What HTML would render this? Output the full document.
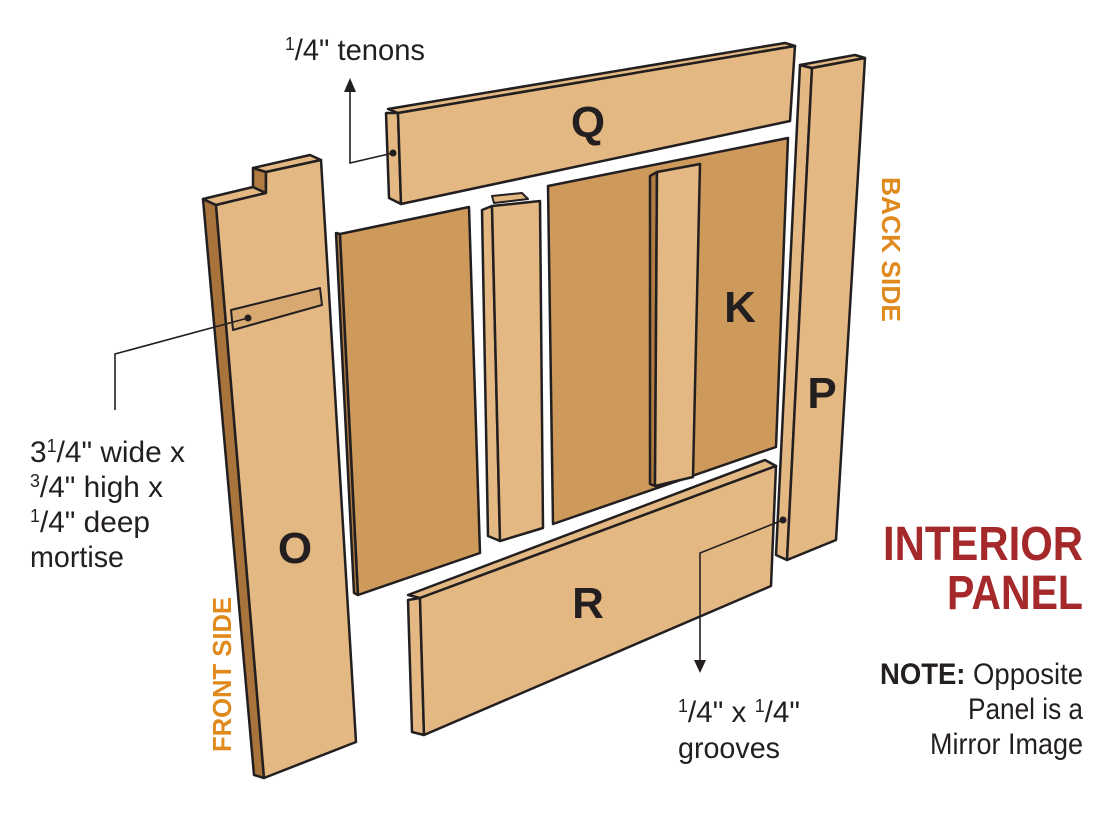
<!DOCTYPE html>
<html><head><meta charset="utf-8"><style>
body{margin:0;background:#fff}
svg text{font-family:"Liberation Sans Narrow","Liberation Sans",sans-serif}
</style></head><body>
<svg width="1118" height="831" viewBox="0 0 1118 831" xmlns="http://www.w3.org/2000/svg">
<g stroke="#231f20" stroke-width="2.5" stroke-linejoin="round">
<polygon points="203,199 216,205 264,778 254,775" fill="#a8743c"/>
<polygon points="203,199 253,187 266,193 216,205" fill="#e3b883"/>
<polygon points="253,168 266,172 266,193 253,187" fill="#b07c42"/>
<polygon points="253,168 310,155 321,160 266,172" fill="#e3b883"/>
<polygon points="216,205 266,193 266,172 321,160 356,742 264,778" fill="#e3b883"/>
<polygon points="231,310 320,288 322,305 233,330" fill="#d9a972" stroke-width="2"/>
<polygon points="336,233 340,234 358,595 354,593" fill="#b07c42"/>
<polygon points="340,234 469,207 480,553 358,595" fill="#cd9a5c"/>
<polygon points="482,210 492,206 500,541 488,536" fill="#e3b883"/>
<polygon points="492,196 522,193 528,199 494,203" fill="#e3b883" stroke-width="2"/>
<polygon points="492,206 540,201 543,528 500,541" fill="#e3b883"/>
<polygon points="548,186 788,138 776,447 553,524" fill="#cd9a5c"/>
<polygon points="650,176 657,172 655,486 650,484" fill="#b07c42"/>
<polygon points="657,172 700,164 693,477 655,486" fill="#e3b883"/>
<polygon points="386,113 398,113 401,204 389,198" fill="#e3b883"/>
<polygon points="388,109 785,43 795,46 398,113" fill="#e3b883"/>
<polygon points="398,113 795,46 790,121 401,204" fill="#e3b883"/>
<polygon points="800,65 812,68 787,560 776,555" fill="#e3b883"/>
<polygon points="800,65 855,55 865,58 812,68" fill="#e3b883"/>
<polygon points="812,68 865,58 836,540 787,560" fill="#e3b883"/>
<polygon points="408,600 420,598 424,735 412,732" fill="#e3b883"/>
<polygon points="408,595 765,460 776,466 420,598" fill="#e3b883"/>
<polygon points="420,598 776,466 771,586 424,735" fill="#e3b883"/>
</g>
<g stroke="#231f20" stroke-width="1.6" fill="none">
<polyline points="393,153 350,163 350,90"/>
<polyline points="248,318 115,354 115,410"/>
<polyline points="783,520 700,553 700,662"/>
</g>
<g fill="#231f20">
<circle cx="393" cy="153" r="3.5"/><circle cx="248" cy="318" r="3.5"/><circle cx="783" cy="520" r="3.5"/>
<polygon points="344,92 356,92 350,78"/>
<polygon points="694,660 706,660 700,673"/>
</g>
<g font-weight="bold" font-size="44" fill="#231f20" text-anchor="middle">
<text x="588" y="137">Q</text><text x="740" y="322">K</text>
<text x="295" y="563">O</text><text x="822" y="408">P</text><text x="588" y="618">R</text>
</g>
<g font-size="30" fill="#231f20" lengthAdjust="spacingAndGlyphs">
<text x="285" y="60" textLength="140" lengthAdjust="spacingAndGlyphs"><tspan font-size="18" dy="-10">1</tspan><tspan dy="10">/4" tenons</tspan></text>
<text x="30" y="462" textLength="155" lengthAdjust="spacingAndGlyphs">3<tspan font-size="18" dy="-10">1</tspan><tspan dy="10">/4" wide x</tspan></text>
<text x="30" y="497" textLength="133" lengthAdjust="spacingAndGlyphs"><tspan font-size="18" dy="-10">3</tspan><tspan dy="10">/4" high x</tspan></text>
<text x="30" y="532" textLength="120" lengthAdjust="spacingAndGlyphs"><tspan font-size="18" dy="-10">1</tspan><tspan dy="10">/4" deep</tspan></text>
<text x="30" y="567" textLength="94" lengthAdjust="spacingAndGlyphs">mortise</text>
<text x="678" y="722" textLength="122" lengthAdjust="spacingAndGlyphs"><tspan font-size="18" dy="-10">1</tspan><tspan dy="10">/4" x </tspan><tspan font-size="18" dy="-10">1</tspan><tspan dy="10">/4"</tspan></text>
<text x="678" y="758" textLength="102" lengthAdjust="spacingAndGlyphs">grooves</text>
<text x="880" y="684" textLength="203" lengthAdjust="spacingAndGlyphs"><tspan font-weight="bold">NOTE:</tspan> Opposite</text>
<text x="968" y="719" textLength="115" lengthAdjust="spacingAndGlyphs">Panel is a</text>
<text x="930" y="754" textLength="153" lengthAdjust="spacingAndGlyphs">Mirror Image</text>
</g>
<g fill="#a5282a" font-size="48" font-weight="bold">
<text x="883" y="560" textLength="200" lengthAdjust="spacingAndGlyphs">INTERIOR</text>
<text x="947" y="609" textLength="136" lengthAdjust="spacingAndGlyphs">PANEL</text>
</g>
<g fill="#e08a1e" font-size="26" font-weight="bold">
<text transform="translate(231,752) rotate(-90)" textLength="155" lengthAdjust="spacingAndGlyphs">FRONT SIDE</text>
<text transform="translate(882,177) rotate(90)" textLength="145" lengthAdjust="spacingAndGlyphs">BACK SIDE</text>
</g>
</svg>
</body></html>
